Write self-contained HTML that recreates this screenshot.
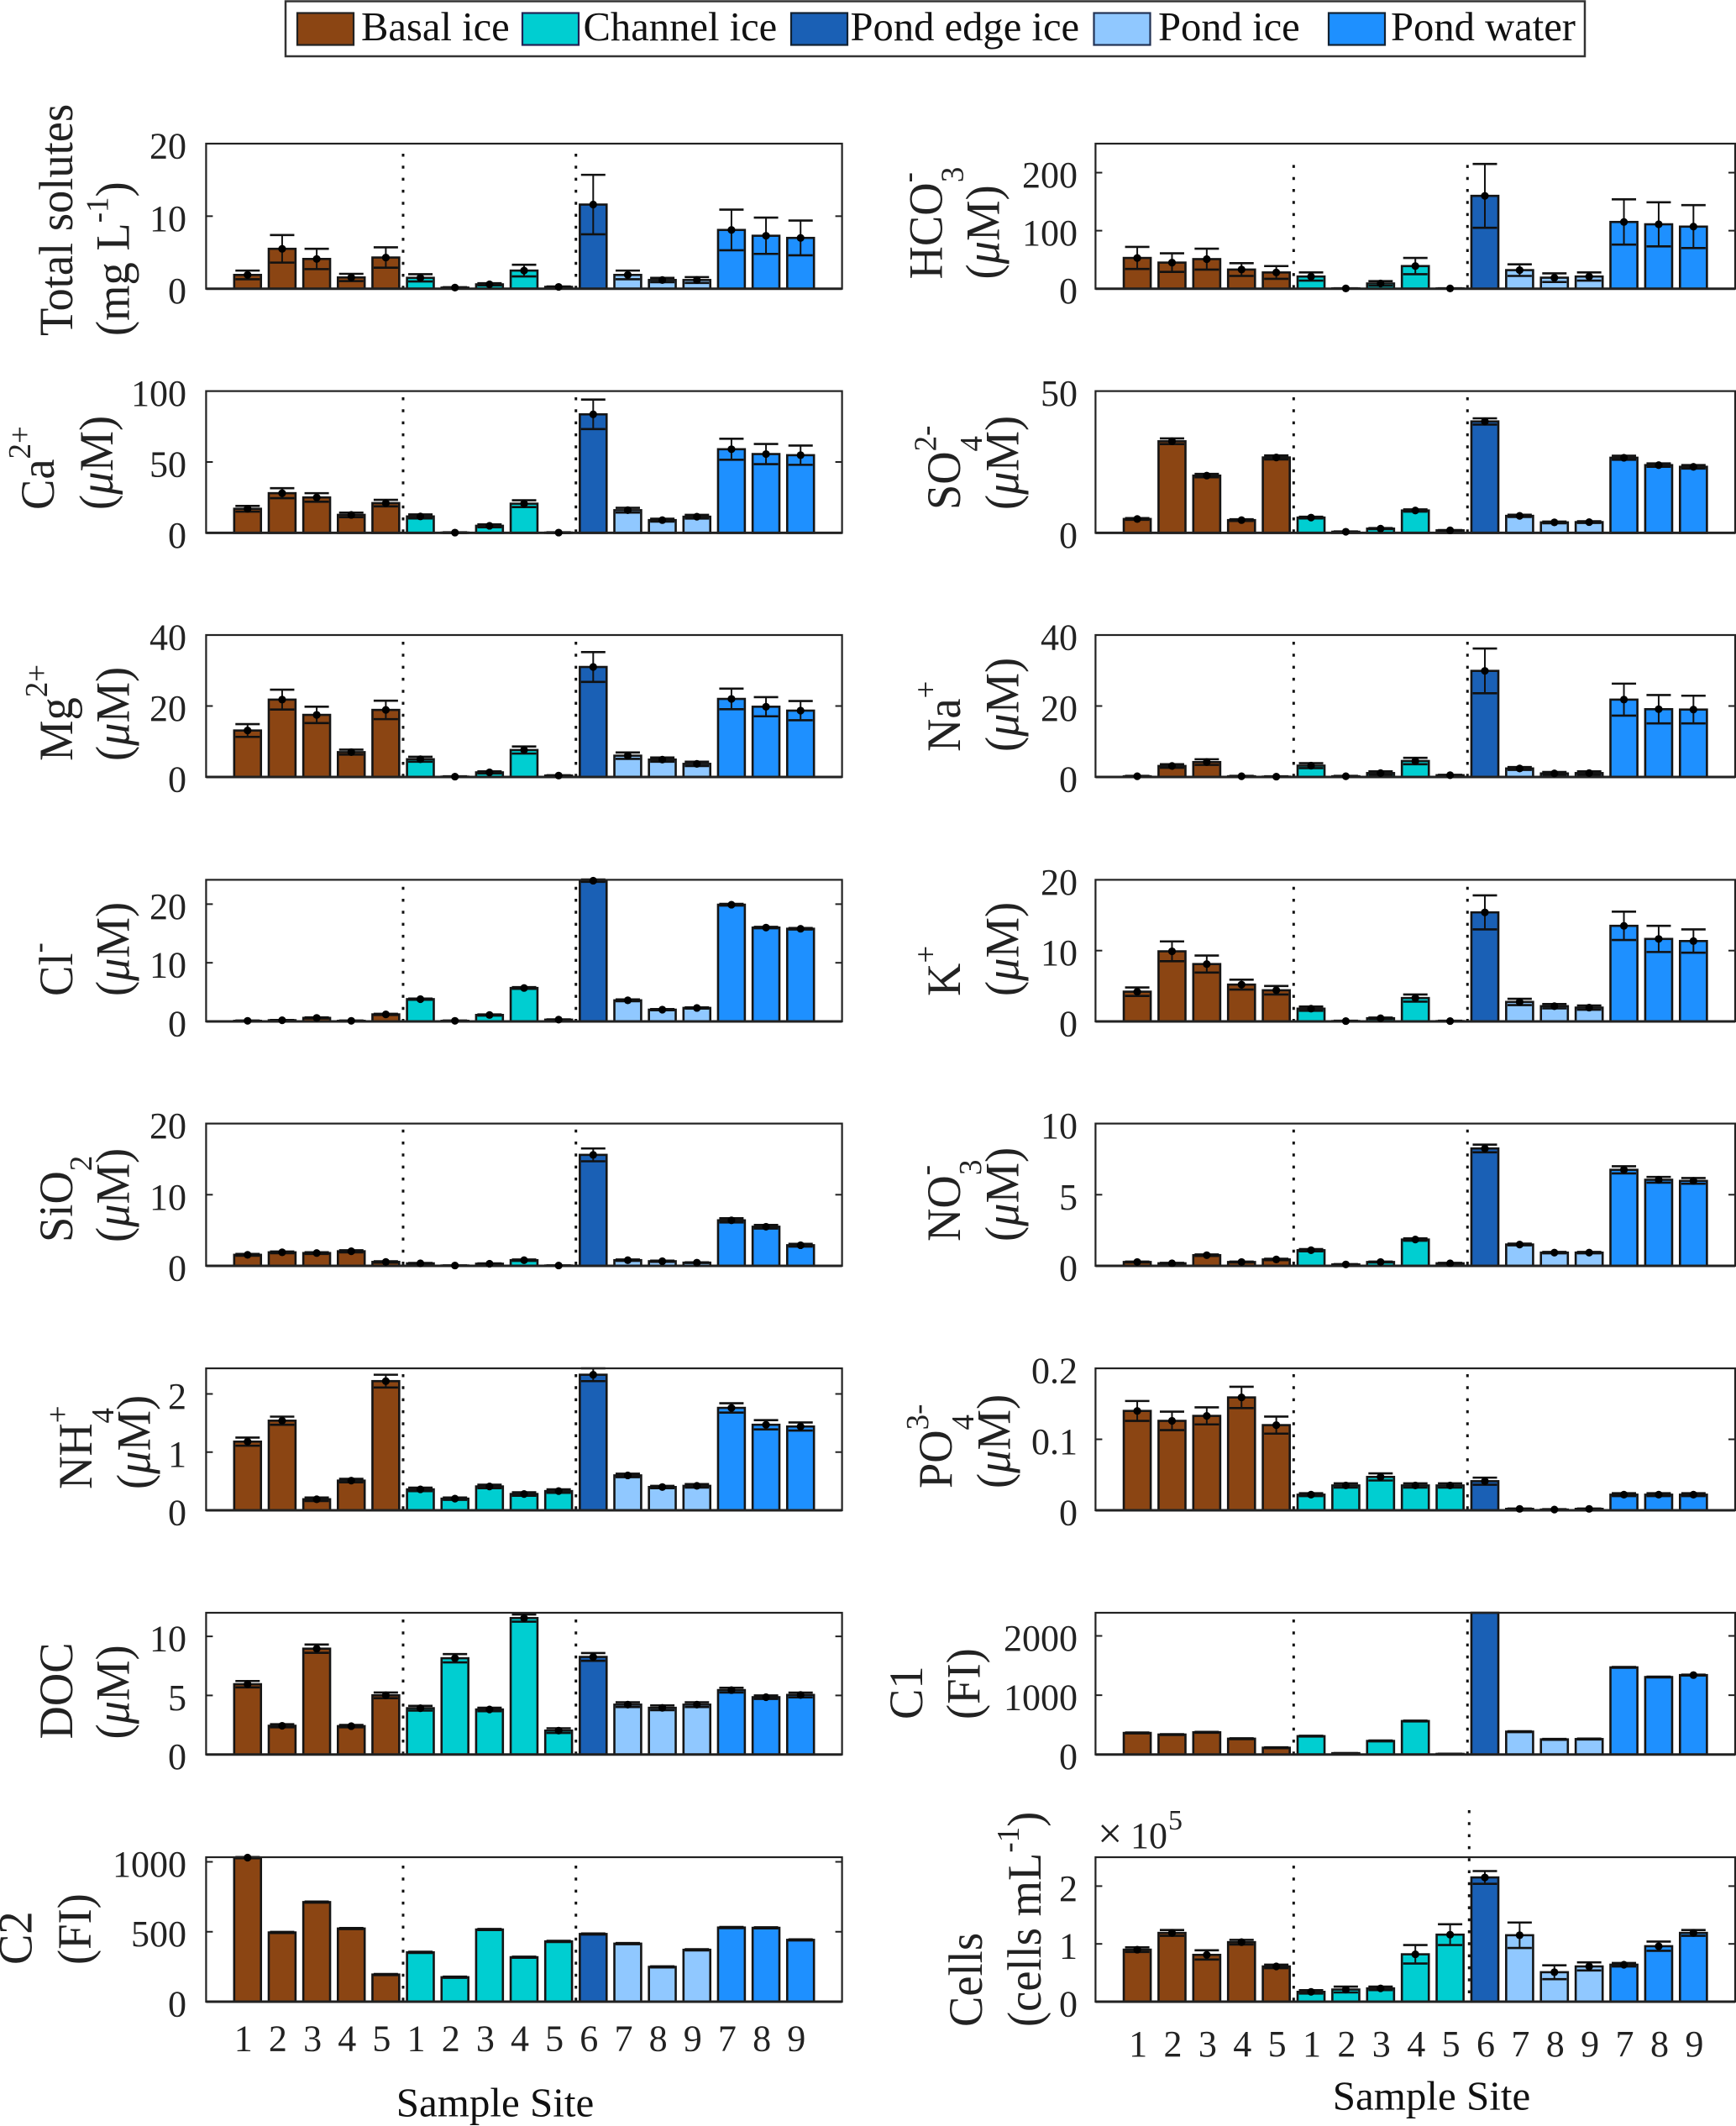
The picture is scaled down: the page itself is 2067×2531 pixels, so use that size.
<!DOCTYPE html>
<html lang="en">
<head>
<meta charset="utf-8">
<title>Sample site chemistry bar charts</title>
<style>
html,body{margin:0;padding:0;background:#fff;}
svg{display:block;}
text{font-family:"Liberation Serif","Times New Roman",serif;fill:#222;}
.yl{font-size:54.5px;}
.yl .s{font-size:37px;}
.mu{font-style:italic;}
.lg{font-size:48.6px;fill:#111;}
.xt{font-size:49px;fill:#111;}
.tk{font-size:44px;}
</style>
</head>
<body>
<svg id="fig" xmlns="http://www.w3.org/2000/svg" width="2067" height="2531" viewBox="0 0 2067 2531">
<rect x="0" y="0" width="2067" height="2531" fill="#fff"/>

<g>
<rect x="340" y="1.5" width="1547" height="65.5" fill="#fff" stroke="#333" stroke-width="2.5"/>
<rect x="354" y="15.5" width="67" height="38" fill="#8B4513" stroke="#222" stroke-width="2.2"/>
<text class="lg" x="430" y="48">Basal ice</text>
<rect x="622" y="15.5" width="67" height="38" fill="#00CED1" stroke="#225" stroke-width="2.2"/>
<text class="lg" x="694.5" y="48">Channel ice</text>
<rect x="942" y="15.5" width="67" height="38" fill="#1A60B5" stroke="#123" stroke-width="2.2"/>
<text class="lg" x="1012.5" y="48">Pond edge ice</text>
<rect x="1302.5" y="15.5" width="67" height="38" fill="#90C8FF" stroke="#235" stroke-width="2.2"/>
<text class="lg" x="1379" y="48">Pond ice</text>
<rect x="1582" y="15.5" width="67" height="38" fill="#1E90FF" stroke="#123" stroke-width="2.2"/>
<text class="lg" x="1656" y="48">Pond water</text>
</g>

<g>
<text class="yl" transform="translate(86,400) rotate(-90) scale(1,1.04)">Total solutes</text>
<text class="yl" transform="translate(153.5,400) rotate(-90) scale(1,1.04)">(mg L<tspan class="s" dy="-24">-1</tspan><tspan dy="24">)</tspan></text>

<text class="yl" transform="translate(64,607) rotate(-90) scale(1,1.04)">Ca<tspan class="s" dy="-27">2+</tspan></text>
<text class="yl" transform="translate(134,607) rotate(-90) scale(1,1.04)">(<tspan class="mu">μ</tspan>M)</text>

<text class="yl" transform="translate(86,906) rotate(-90) scale(1,1.04)">Mg<tspan class="s" dy="-29">2+</tspan></text>
<text class="yl" transform="translate(153.5,906) rotate(-90) scale(1,1.04)">(<tspan class="mu">μ</tspan>M)</text>

<text class="yl" transform="translate(86,1186) rotate(-90) scale(1,1.04)">Cl<tspan class="s" dy="-27">-</tspan></text>
<text class="yl" transform="translate(153.5,1186) rotate(-90) scale(1,1.04)">(<tspan class="mu">μ</tspan>M)</text>

<text class="yl" transform="translate(86,1479) rotate(-90) scale(1,1.04)">SiO<tspan class="s" dy="22">2</tspan></text>
<text class="yl" transform="translate(153.5,1479) rotate(-90) scale(1,1.04)">(<tspan class="mu">μ</tspan>M)</text>

<text class="yl" transform="translate(109,1773) rotate(-90) scale(1,1.04)">NH<tspan class="s" dy="-27">+</tspan><tspan class="s" dx="-21" dy="52">4</tspan></text>
<text class="yl" transform="translate(178.5,1773) rotate(-90) scale(1,1.04)">(<tspan class="mu">μ</tspan>M)</text>

<text class="yl" transform="translate(86,2070.5) rotate(-90) scale(1,1.04)">DOC</text>
<text class="yl" transform="translate(153.5,2070.5) rotate(-90) scale(1,1.04)">(<tspan class="mu">μ</tspan>M)</text>

<text class="yl" transform="translate(37.5,2339) rotate(-90) scale(1,1.04)">C2</text>
<text class="yl" transform="translate(108,2339) rotate(-90) scale(1,1.04)">(FI)</text>

<text class="yl" transform="translate(1121.7,332.5) rotate(-90) scale(1,1.04)">HCO<tspan class="s" dy="-27">-</tspan><tspan class="s" dx="-12" dy="51">3</tspan></text>
<text class="yl" transform="translate(1189.5,332.5) rotate(-90) scale(1,1.04)">(<tspan class="mu">μ</tspan>M)</text>

<text class="yl" transform="translate(1142.8,607) rotate(-90) scale(1,1.04)">SO<tspan class="s" dy="-27">2-</tspan><tspan class="s" dx="-31" dy="52">4</tspan></text>
<text class="yl" transform="translate(1212.5,607) rotate(-90) scale(1,1.04)">(<tspan class="mu">μ</tspan>M)</text>

<text class="yl" transform="translate(1142.8,895) rotate(-90) scale(1,1.04)">Na<tspan class="s" dy="-27">+</tspan></text>
<text class="yl" transform="translate(1212.5,895) rotate(-90) scale(1,1.04)">(<tspan class="mu">μ</tspan>M)</text>

<text class="yl" transform="translate(1142.8,1186) rotate(-90) scale(1,1.04)">K<tspan class="s" dy="-27">+</tspan></text>
<text class="yl" transform="translate(1212.5,1186) rotate(-90) scale(1,1.04)">(<tspan class="mu">μ</tspan>M)</text>

<text class="yl" transform="translate(1142.8,1478) rotate(-90) scale(1,1.04)">NO<tspan class="s" dy="-27">-</tspan><tspan class="s" dx="-12" dy="51">3</tspan></text>
<text class="yl" transform="translate(1212.5,1478) rotate(-90) scale(1,1.04)">(<tspan class="mu">μ</tspan>M)</text>

<text class="yl" transform="translate(1133,1772) rotate(-90) scale(1,1.04)">PO<tspan class="s" dy="-27">3-</tspan><tspan class="s" dx="-31" dy="52">4</tspan></text>
<text class="yl" transform="translate(1202.5,1772) rotate(-90) scale(1,1.04)">(<tspan class="mu">μ</tspan>M)</text>

<text class="yl" transform="translate(1098,2047) rotate(-90) scale(1,1.04)">C1</text>
<text class="yl" transform="translate(1166.5,2047) rotate(-90) scale(1,1.04)">(FI)</text>

<text class="yl" transform="translate(1169,2413) rotate(-90) scale(1,1.04)">Cells</text>
<text class="yl" transform="translate(1239,2413) rotate(-90) scale(1,1.04)">(cells mL<tspan class="s" dy="-25">-1</tspan><tspan dy="25">)</tspan></text>
</g>

<text class="xt" x="589.5" y="2519.5" text-anchor="middle">Sample Site</text>
<text class="xt" x="1704.5" y="2511.5" text-anchor="middle">Sample Site</text>

<g>
<text x="1307" y="2200" font-size="52">×</text>
<text class="tk" x="1346" y="2200">10</text>
<text x="1391" y="2178" font-size="34">5</text>
</g>

<g id="panels"></g>
</svg>

<script>
// Shared categories
const siteLabels = ['1','2','3','4','5','1','2','3','4','5','6','7','8','9','7','8','9'];
const siteGroups = ['basal','basal','basal','basal','basal','channel','channel','channel','channel','channel','edge','ice','ice','ice','water','water','water'];
const groupDividers = [5.5, 10.5];

// Total solutes (mg/L)
const totalSolutesValues = [1.9,5.5,4.1,1.55,4.3,1.5,0.15,0.6,2.5,0.25,11.6,1.9,1.2,1.2,8.1,7.3,7.0];
const totalSolutesErrors = [0.6,1.9,1.4,0.5,1.4,0.5,0.05,0.15,0.8,0.05,4.1,0.6,0.3,0.4,2.8,2.5,2.4];
const totalSolutesTicks = [0,10,20];

// HCO3- (uM)
const bicarbonateValues = [53,45,51,33,28,21,0.5,9,39,0.5,160,32,19,21,115,111,107];
const bicarbonateErrors = [19,16,18,11,11,7,0.3,4,14,0.3,55,10,7.5,7,39,38,37];
const bicarbonateTicks = [0,100,200];

// Ca2+ (uM)
const calciumValues = [17,28,25,12.7,21,11.6,0.2,5,20.6,0.2,83.6,16,9,11.4,59,55.6,54.8];
const calciumErrors = [2,3.5,3,1.6,2.3,1.4,0.2,1,2.4,0.2,10.4,1.7,1,1.3,7.4,7.1,6.8];
const calciumTicks = [0,50,100];

// SO4 2- (uM)
const sulfateValues = [4.9,32.3,20.2,4.5,26.6,5.4,0.4,1.5,7.9,0.9,39.3,6,3.7,3.8,26.5,23.9,23.3];
const sulfateErrors = [0.3,1,0.6,0.3,0.7,0.3,0.1,0.2,0.4,0.1,1.1,0.4,0.3,0.3,0.7,0.6,0.6];
const sulfateTicks = [0,50];

// Mg2+ (uM)
const magnesiumValues = [13.1,21.8,17.5,7,18.9,5,0.1,1.3,7.6,0.4,31,6,4.9,3.7,22,19.8,18.7];
const magnesiumErrors = [1.8,2.8,2.3,0.7,2.6,0.7,0.1,0.3,1,0.1,4.2,0.9,0.6,0.6,2.9,2.7,2.7];
const magnesiumTicks = [0,20,40];

// Na+ (uM)
const sodiumValues = [0.2,3.1,4.2,0.2,0.1,3.2,0.2,1.1,4.5,0.5,29.9,2.4,1,1.1,21.8,19.1,19];
const sodiumErrors = [0.1,0.5,0.8,0.1,0.1,0.7,0.1,0.5,0.9,0.1,6.3,0.4,0.4,0.5,4.5,4,3.9];
const sodiumTicks = [0,20,40];

// Cl- (uM)
const chlorideValues = [0.1,0.2,0.6,0.1,1.2,3.8,0.1,1.1,5.7,0.3,24,3.6,2,2.3,19.9,16,15.8];
const chlorideErrors = [0.05,0.05,0.1,0.05,0.1,0.1,0.05,0.1,0.15,0.05,0.2,0.15,0.1,0.1,0.15,0.12,0.12];
const chlorideTicks = [0,10,20];

// K+ (uM)
const potassiumValues = [4.2,9.9,8.1,5.2,4.4,1.8,0.05,0.45,3.3,0.05,15.4,2.75,2.15,1.95,13.5,11.65,11.35];
const potassiumErrors = [0.6,1.4,1.2,0.7,0.6,0.3,0.05,0.1,0.5,0.05,2.4,0.45,0.3,0.3,2,1.85,1.65];
const potassiumTicks = [0,10,20];

// SiO2 (uM)
const silicaValues = [1.55,1.9,1.8,2.05,0.55,0.35,0.05,0.3,0.8,0.05,15.6,0.8,0.65,0.45,6.4,5.5,2.9];
const silicaErrors = [0.12,0.12,0.12,0.15,0.1,0.05,0.02,0.05,0.1,0.02,0.9,0.1,0.08,0.05,0.3,0.25,0.2];
const silicaTicks = [0,10,20];

// NO3- (uM)
const nitrateValues = [0.27,0.18,0.75,0.27,0.45,1.1,0.1,0.27,1.85,0.18,8.25,1.5,0.93,0.93,6.75,6.05,5.97];
const nitrateErrors = [0.03,0.03,0.05,0.03,0.05,0.08,0.02,0.03,0.08,0.03,0.27,0.06,0.05,0.05,0.25,0.2,0.2];
const nitrateTicks = [0,5,10];

// NH4+ (uM)
const ammoniumValues = [1.18,1.54,0.19,0.51,2.22,0.36,0.2,0.41,0.28,0.33,2.33,0.6,0.4,0.42,1.76,1.47,1.44];
const ammoniumErrors = [0.07,0.07,0.03,0.03,0.11,0.03,0.02,0.03,0.03,0.03,0.11,0.03,0.02,0.03,0.08,0.08,0.07];
const ammoniumTicks = [0,1,2];

// PO4 3- (uM)
const phosphateValues = [0.14,0.126,0.133,0.159,0.12,0.022,0.035,0.047,0.035,0.035,0.041,0.002,0.001,0.002,0.022,0.022,0.022];
const phosphateErrors = [0.014,0.013,0.012,0.015,0.012,0.002,0.003,0.005,0.003,0.003,0.005,0.0005,0.0005,0.0005,0.002,0.002,0.002];
const phosphateTicks = [0,0.1,0.2];

// DOC (uM)
const docValues = [5.95,2.43,8.96,2.4,5.01,3.92,8.15,3.81,11.55,2.02,8.26,4.22,3.95,4.22,5.45,4.85,5.04];
const docErrors = [0.27,0.13,0.35,0.1,0.24,0.2,0.35,0.15,0.3,0.2,0.33,0.2,0.2,0.2,0.2,0.15,0.2];
const docTicks = [0,5,10];

// C1 (FI)
const c1Values = [363,336,374,266,114,309,22,228,564,10,2450,385,255,260,1469,1306,1339];
const c1Errors = [7,7,7,7,7,7,2,7,7,2,7,7,7,7,7,7,7];
const c1Ticks = [0,1000,2000];
const c1MarkerSites = [17];

// C2 (FI)
const c2Values = [1030,495,712,523,194,353,175,516,318,431,484,415,249,371,530,528,442];
const c2Errors = [4,4,4,4,4,4,4,4,4,4,4,4,4,4,4,4,4];
const c2Ticks = [0,500,1000];
const c2MarkerSites = [1];

// Cells (x 10^5 cells/mL)
const cellsValues = [0.9,1.19,0.81,1.03,0.61,0.17,0.21,0.23,0.82,1.16,2.15,1.15,0.51,0.61,0.64,0.96,1.19];
const cellsErrors = [0.04,0.05,0.08,0.04,0.03,0.03,0.05,0.03,0.16,0.18,0.11,0.22,0.12,0.07,0.03,0.08,0.05];
const cellsTicks = [0,1,2];

// Layout
const groupFill = {basal:'#8B4513',channel:'#00CED1',edge:'#1A60B5',ice:'#90C8FF',water:'#1E90FF'};
const rowTop = [171,465.6,756,1047.4,1337.6,1629,1920,2211];
const rowBottom = [343.7,634.4,925,1216,1507,1798,2088.7,2383];
const colLeft = [245.4,1304.4];
const colRight = [1002.6,2066];
const tickLabelRight = [222,1283];
const dividerStart = [183,473,764,1055.7,1344.7,1636,1928,2221];
const xLow = -0.2;
const xHigh = 18.2;

const panels = [
  {name:'total-solutes',col:0,row:0,ymax:20,values:totalSolutesValues,errors:totalSolutesErrors,ticks:totalSolutesTicks},
  {name:'bicarbonate',col:1,row:0,ymax:250,values:bicarbonateValues,errors:bicarbonateErrors,ticks:bicarbonateTicks,dividerTop:196.4},
  {name:'calcium',col:0,row:1,ymax:100,values:calciumValues,errors:calciumErrors,ticks:calciumTicks},
  {name:'sulfate',col:1,row:1,ymax:50,values:sulfateValues,errors:sulfateErrors,ticks:sulfateTicks},
  {name:'magnesium',col:0,row:2,ymax:40,values:magnesiumValues,errors:magnesiumErrors,ticks:magnesiumTicks},
  {name:'sodium',col:1,row:2,ymax:40,values:sodiumValues,errors:sodiumErrors,ticks:sodiumTicks},
  {name:'chloride',col:0,row:3,ymax:24.15,values:chlorideValues,errors:chlorideErrors,ticks:chlorideTicks},
  {name:'potassium',col:1,row:3,ymax:20,values:potassiumValues,errors:potassiumErrors,ticks:potassiumTicks},
  {name:'silica',col:0,row:4,ymax:20,values:silicaValues,errors:silicaErrors,ticks:silicaTicks},
  {name:'nitrate',col:1,row:4,ymax:10,values:nitrateValues,errors:nitrateErrors,ticks:nitrateTicks},
  {name:'ammonium',col:0,row:5,ymax:2.44,values:ammoniumValues,errors:ammoniumErrors,ticks:ammoniumTicks},
  {name:'phosphate',col:1,row:5,ymax:0.2,values:phosphateValues,errors:phosphateErrors,ticks:phosphateTicks},
  {name:'doc',col:0,row:6,ymax:12,values:docValues,errors:docErrors,ticks:docTicks},
  {name:'c1',col:1,row:6,ymax:2390,values:c1Values,errors:c1Errors,ticks:c1Ticks,markers:c1MarkerSites},
  {name:'c2',col:0,row:7,ymax:1033,values:c2Values,errors:c2Errors,ticks:c2Ticks,markers:c2MarkerSites,xLabelY:2441.7,xLabelShift:-5},
  {name:'cells',col:1,row:7,ymax:2.5,values:cellsValues,errors:cellsErrors,ticks:cellsTicks,xLabelY:2448,xLabelShift:1,secondDividerTop:2155,secondDividerShift:2}
];

const SVGNS = 'http://www.w3.org/2000/svg';
function make(parent, tag, attrs) {
  const el = document.createElementNS(SVGNS, tag);
  for (const k in attrs) el.setAttribute(k, attrs[k]);
  parent.appendChild(el);
  return el;
}

const root = document.getElementById('panels');

panels.forEach(function (p) {
  const left = colLeft[p.col], right = colRight[p.col];
  const top = rowTop[p.row], bottom = rowBottom[p.row];
  const xScale = function (site) { return left + (site - xLow) / (xHigh - xLow) * (right - left); };
  const yScale = function (v) { return bottom - v / p.ymax * (bottom - top); };
  const unit = xScale(2) - xScale(1);
  const barW = unit * 0.775;
  const capW = 29;

  const g = make(root, 'g', {});
  
  

  // bars
  p.values.forEach(function (v, i) {
    const site = i + 1;
    const yTop = Math.max(yScale(v), top);
    const bar = make(g, 'rect', {x: xScale(site) - barW / 2, y: yTop, width: barW, height: Math.max(bottom - yTop, 0), fill: groupFill[siteGroups[i]], stroke: '#151515', 'stroke-width': 2.6});
    
    
  });

  // group dividers
  groupDividers.forEach(function (d, di) {
    const isSecond = di === 1 && p.secondDividerTop !== undefined;
    const start = isSecond ? p.secondDividerTop : (p.dividerTop !== undefined ? p.dividerTop : dividerStart[p.row]);
    const dx = xScale(d) + (isSecond ? p.secondDividerShift : 0);
    const line = make(g, 'line', {x1: dx, x2: dx, y1: start, y2: bottom, stroke: '#111', 'stroke-width': 3, 'stroke-dasharray': '3.5 10.8'});
    
    
  });

  // error bars
  p.errors.forEach(function (e, i) {
    const site = i + 1;
    if (p.values[i] - e > p.ymax) return;
    const cx = xScale(site);
    const yHi = Math.max(yScale(p.values[i] + e), top - 1);
    const yLo = Math.min(yScale(p.values[i] - e), bottom);
    const stem = make(g, 'line', {x1: cx, x2: cx, y1: yHi, y2: yLo, stroke: '#111', 'stroke-width': 2});
    
    
    const capHi = make(g, 'line', {x1: cx - capW / 2, x2: cx + capW / 2, y1: yHi, y2: yHi, stroke: '#111', 'stroke-width': 2.6});
    
    
    const capLo = make(g, 'line', {x1: cx - capW / 2, x2: cx + capW / 2, y1: yLo, y2: yLo, stroke: '#111', 'stroke-width': 2.6});
    
    
  });

  // axes box
  const box = make(g, 'rect', {x: left, y: top, width: right - left, height: bottom - top, fill: 'none', stroke: '#222', 'stroke-width': 2.2});
  
  

  const base = make(g, 'line', {x1: left, x2: right, y1: bottom, y2: bottom, stroke: '#222', 'stroke-width': 3});
  
  

  // markers
  p.values.forEach(function (v, i) {
    const site = i + 1;
    if (p.markers && p.markers.indexOf(site) < 0) return;
    if (v > p.ymax) return;
    const dot = make(g, 'circle', {cx: xScale(site), cy: yScale(v), r: 4.6, fill: '#000'});
    
    
  });

  // y ticks and labels
  p.ticks.forEach(function (t) {
    const y = yScale(t);
    if (t !== 0 && Math.abs(y - top) > 0.5) {
      const tl = make(g, 'line', {x1: left, x2: left + 8, y1: y, y2: y, stroke: '#222', 'stroke-width': 2});
      
      
      const tr = make(g, 'line', {x1: right - 8, x2: right, y1: y, y2: y, stroke: '#222', 'stroke-width': 2});
      
      
    }
    const label = make(g, 'text', {x: tickLabelRight[p.col], y: y + 17.5, 'text-anchor': 'end', class: 'tk'});
    label.textContent = String(t);
    
    
  });

  // x tick labels (bottom row only)
  if (p.xLabelY !== undefined) {
    siteLabels.forEach(function (s, i) {
      const label = make(g, 'text', {x: xScale(i + 1) + p.xLabelShift, y: p.xLabelY, 'text-anchor': 'middle', class: 'tk'});
      label.textContent = s;
      
      
    });
  }
});
</script>
</body>
</html>
